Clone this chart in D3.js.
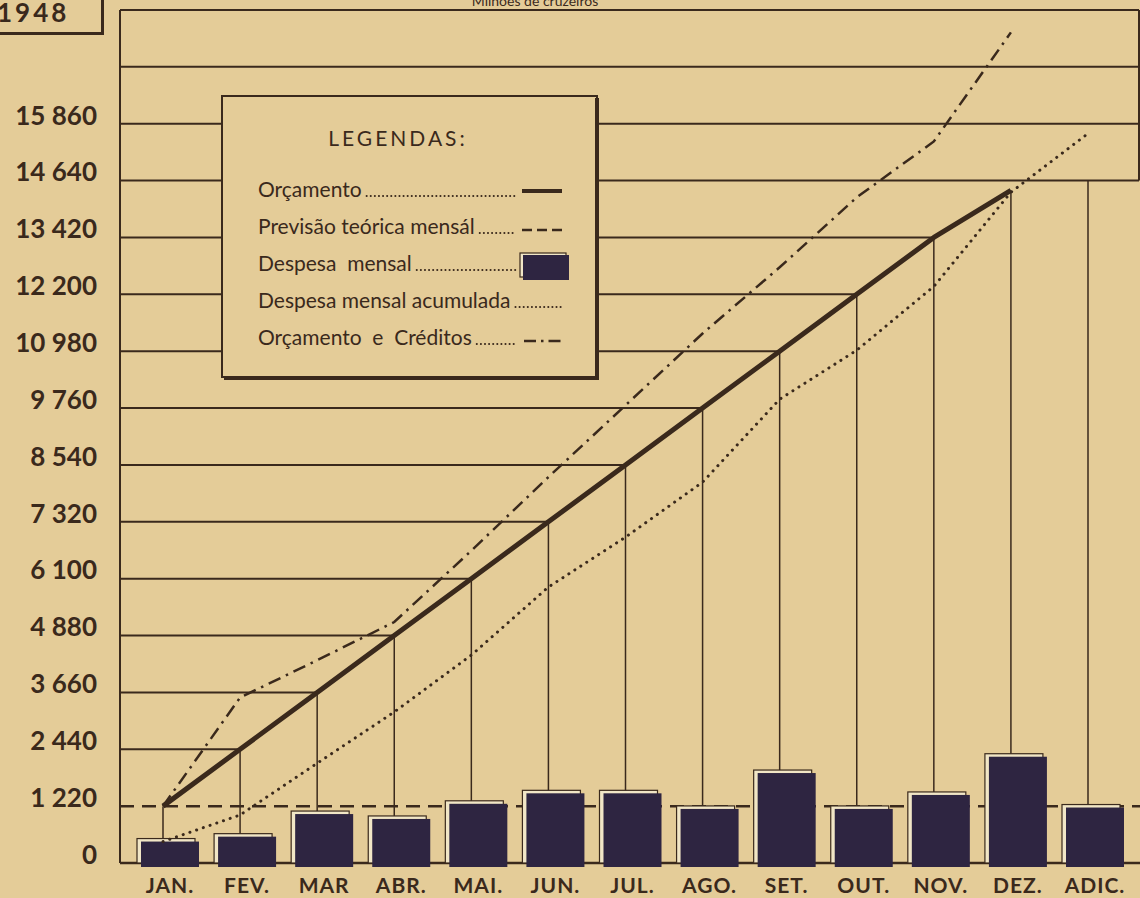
<!DOCTYPE html>
<meta charset="utf-8">

<head>
  <title>Despesa mensal 1948</title>
  <style>
    body {
      margin: 0;
      background: #e4cc98;
    }

    #viz {
      display: block;
    }

    text {
      font-family: Lato, "DejaVu Sans", sans-serif;
    }
  </style>
</head>

<body>
  <svg id="viz" width="1140" height="898"></svg>

  <script src="https://d3js.org/d3.v7.min.js"></script>

  <script>
    // values (millions of cruzeiros)
    var months = ["JAN.", "FEV.", "MAR", "ABR.", "MAI.", "JUN.", "JUL.", "AGO.", "SET.", "OUT.", "NOV.", "DEZ.", "ADIC."];
    var despesaMensal = [460, 565, 1050, 945, 1270, 1495, 1495, 1160, 1930, 1160, 1460, 2280, 1190];
    var despesaAcumulada = [460, 1030, 2140, 3240, 4460, 5920, 6990, 8170, 9950, 11000, 12370, 14390, 15650];
    var orcamento = [1220, 2440, 3660, 4880, 6100, 7320, 8540, 9760, 10980, 12200, 13420, 14430];
    var orcamentoCreditos = [1220, 3550, 4350, 5170, 6700, 8280, 9820, 11360, 12780, 14280, 15480, 17820];
    var previsaoMensal = 1220;
    var adicTopo = 14640;
    var yTicks = [0, 1220, 2440, 3660, 4880, 6100, 7320, 8540, 9760, 10980, 12200, 13420, 14640, 15860];
    var fullLines = [14640, 15860, 17080, 18300];
    var yMax = 18300;

    var legendItems = [
      { label: "Orçamento", kind: "solid" },
      { label: "Previsão teórica mensál", kind: "dash" },
      { label: "Despesa  mensal", kind: "bar" },
      { label: "Despesa mensal acumulada", kind: "dot" },
      { label: "Orçamento  e  Créditos", kind: "dashdot" }
    ];

    var ink = "#3a291c";
    var barFill = "#2e2541";
    var bg = "#e4cc98";

    var svg = d3.select("#viz");
    var left = 120, right = 1139;

    var y = d3.scaleLinear().domain([0, yMax]).range([863, 10]);
    var x = d3.scalePoint().domain(months).range([163, 1088]);
    var barW = 58, barShift = 7;

    var fmt = d3.formatLocale({ decimal: ",", thousands: " ", grouping: [3], currency: ["", ""] }).format(",d");

    // title and year box (both run off the top edge, as in the print)
    svg.append("text")
      .attr("x", 535).attr("y", 6)
      .attr("text-anchor", "middle")
      .attr("fill", ink)
      .style("font-size", "14px")
      .text("Milhões de cruzeiros");

    svg.append("text")
      .attr("x", -3).attr("y", 22)
      .attr("fill", ink)
      .style("font-size", "26px")
      .style("font-weight", "bold")
      .style("letter-spacing", "3px")
      .text("1948");
    svg.append("path")
      .attr("d", "M-5,33.5H102.5V-5")
      .attr("fill", "none")
      .attr("stroke", ink)
      .attr("stroke-width", 3);

    // frame and full width lines
    var grid = svg.append("g").attr("stroke", ink).attr("fill", "none");
    grid.selectAll("line.full")
      .data(fullLines)
      .enter().append("line")
      .attr("class", "full")
      .attr("x1", left).attr("x2", right)
      .attr("y1", d => y(d)).attr("y2", d => y(d))
      .attr("stroke-width", 2);
    grid.append("line")
      .attr("x1", left).attr("x2", left)
      .attr("y1", y(yMax)).attr("y2", y(0))
      .attr("stroke-width", 2);
    grid.append("line")
      .attr("x1", right).attr("x2", right)
      .attr("y1", y(yMax)).attr("y2", y(adicTopo))
      .attr("stroke-width", 2);

    // staircase: horizontal from frame to month, vertical from bar to budget
    var steps = orcamento.slice(1, 11).map((v, i) => ({ m: months[i + 1], v: v }));
    grid.selectAll("line.step")
      .data(steps)
      .enter().append("line")
      .attr("class", "step")
      .attr("x1", left).attr("x2", d => x(d.m))
      .attr("y1", d => y(d.v)).attr("y2", d => y(d.v))
      .attr("stroke-width", 2);

    var tops = months.map((m, i) => ({ m: m, top: i < orcamento.length ? orcamento[i] : adicTopo, bar: despesaMensal[i] }));
    grid.selectAll("line.vert")
      .data(tops)
      .enter().append("line")
      .attr("class", "vert")
      .attr("x1", d => x(d.m)).attr("x2", d => x(d.m))
      .attr("y1", d => y(d.top)).attr("y2", d => y(d.bar))
      .attr("stroke-width", 1.5);

    // baseline
    grid.append("line")
      .attr("x1", left).attr("x2", 1140)
      .attr("y1", y(0)).attr("y2", y(0))
      .attr("stroke-width", 2.5);

    // previsao teorica mensal
    svg.append("line")
      .attr("x1", left).attr("x2", 1140)
      .attr("y1", y(previsaoMensal)).attr("y2", y(previsaoMensal))
      .attr("stroke", ink)
      .attr("stroke-width", 2.5)
      .attr("stroke-dasharray", "14,8");

    // bars
    var bars = svg.append("g");
    bars.selectAll("rect.hl")
      .data(despesaMensal)
      .enter().append("rect")
      .attr("class", "hl")
      .attr("x", (d, i) => x(months[i]) + barShift - barW / 2 - 4)
      .attr("y", d => y(d) - 3)
      .attr("width", barW)
      .attr("height", d => y(0) - y(d) + 3)
      .attr("fill", "#f1e6c6")
      .attr("stroke", ink)
      .attr("stroke-width", 1.2);
    bars.selectAll("rect.bar")
      .data(despesaMensal)
      .enter().append("rect")
      .attr("class", "bar")
      .attr("x", (d, i) => x(months[i]) + barShift - barW / 2)
      .attr("y", d => y(d))
      .attr("width", barW)
      .attr("height", d => y(0) - y(d) + 4)
      .attr("fill", barFill);

    // lines
    var line = d3.line()
      .x((d, i) => x(months[i]))
      .y(d => y(d));

    svg.append("path")
      .datum(despesaAcumulada)
      .attr("d", line)
      .attr("fill", "none")
      .attr("stroke", ink)
      .attr("stroke-width", 3)
      .attr("stroke-linecap", "round")
      .attr("stroke-dasharray", "0.1,7");

    svg.append("path")
      .datum(orcamentoCreditos)
      .attr("d", line)
      .attr("fill", "none")
      .attr("stroke", ink)
      .attr("stroke-width", 2.5)
      .attr("stroke-dasharray", "13,6,2.5,6");

    svg.append("path")
      .datum(orcamento)
      .attr("d", line)
      .attr("fill", "none")
      .attr("stroke", ink)
      .attr("stroke-width", 5)
      .attr("stroke-linejoin", "round");

    // y axis labels
    var yAxis = d3.axisLeft(y)
      .tickValues(yTicks)
      .tickSize(0)
      .tickPadding(0)
      .tickFormat(fmt);
    var ag = svg.append("g")
      .attr("transform", "translate(97,0)")
      .call(yAxis);
    ag.select(".domain").remove();
    ag.selectAll("text")
      .attr("y", -8)
      .attr("fill", ink)
      .style("font-size", "26px")
      .style("font-weight", "bold");

    // month labels
    svg.append("g")
      .selectAll("text")
      .data(months)
      .enter().append("text")
      .attr("x", d => x(d) + barShift)
      .attr("y", 893)
      .attr("text-anchor", "middle")
      .attr("fill", ink)
      .style("font-size", "21px")
      .style("font-weight", "bold")
      .style("letter-spacing", "1px")
      .text(d => d);

    // legend
    var lg = svg.append("g").attr("transform", "translate(222,96)");
    lg.append("rect")
      .attr("width", 375).attr("height", 281)
      .attr("fill", bg)
      .attr("stroke", ink)
      .attr("stroke-width", 2);
    lg.append("path")
      .attr("d", "M375,2V282H2")
      .attr("fill", "none")
      .attr("stroke", ink)
      .attr("stroke-width", 4);
    lg.append("text")
      .attr("x", 176).attr("y", 50)
      .attr("text-anchor", "middle")
      .attr("fill", ink)
      .style("font-size", "21px")
      .style("letter-spacing", "3px")
      .text("LEGENDAS:");

    var rowY = d3.scalePoint().domain(legendItems.map(d => d.label)).range([101, 249]);
    var sampleX = 300, sampleW = 40;

    legendItems.forEach(function (d) {
      var yy = rowY(d.label);
      var t = lg.append("text")
        .attr("x", 36).attr("y", yy)
        .attr("fill", ink)
        .style("font-size", "21px")
        .style("white-space", "pre")
        .text(d.label);
      var tw = t.node().getComputedTextLength();
      var leaderEnd = d.kind === "dot" ? sampleX + sampleW : sampleX - 6;
      lg.append("line")
        .attr("x1", 36 + tw + 5).attr("x2", leaderEnd)
        .attr("y1", yy - 1).attr("y2", yy - 1)
        .attr("stroke", ink)
        .attr("stroke-width", 2)
        .attr("stroke-linecap", "round")
        .attr("stroke-dasharray", "0.1,4");
      var ly = yy - 6;
      if (d.kind === "solid") {
        lg.append("line").attr("x1", sampleX).attr("x2", sampleX + sampleW)
          .attr("y1", ly).attr("y2", ly)
          .attr("stroke", ink).attr("stroke-width", 4);
      } else if (d.kind === "dash") {
        lg.append("line").attr("x1", sampleX).attr("x2", sampleX + sampleW)
          .attr("y1", ly + 2).attr("y2", ly + 2)
          .attr("stroke", ink).attr("stroke-width", 2.5)
          .attr("stroke-dasharray", "10,5");
      } else if (d.kind === "bar") {
        lg.append("rect").attr("x", sampleX - 2).attr("y", yy - 18)
          .attr("width", 46).attr("height", 24)
          .attr("fill", "#f1e6c6").attr("stroke", ink).attr("stroke-width", 1.2);
        lg.append("rect").attr("x", sampleX + 1).attr("y", yy - 16)
          .attr("width", 46).attr("height", 25)
          .attr("fill", barFill);
      } else if (d.kind === "dashdot") {
        lg.append("line").attr("x1", sampleX + 2).attr("x2", sampleX + sampleW)
          .attr("y1", ly + 2).attr("y2", ly + 2)
          .attr("stroke", ink).attr("stroke-width", 2.5)
          .attr("stroke-dasharray", "12,5,2.5,5");
      }
    });
  </script>
</body>

</html>
